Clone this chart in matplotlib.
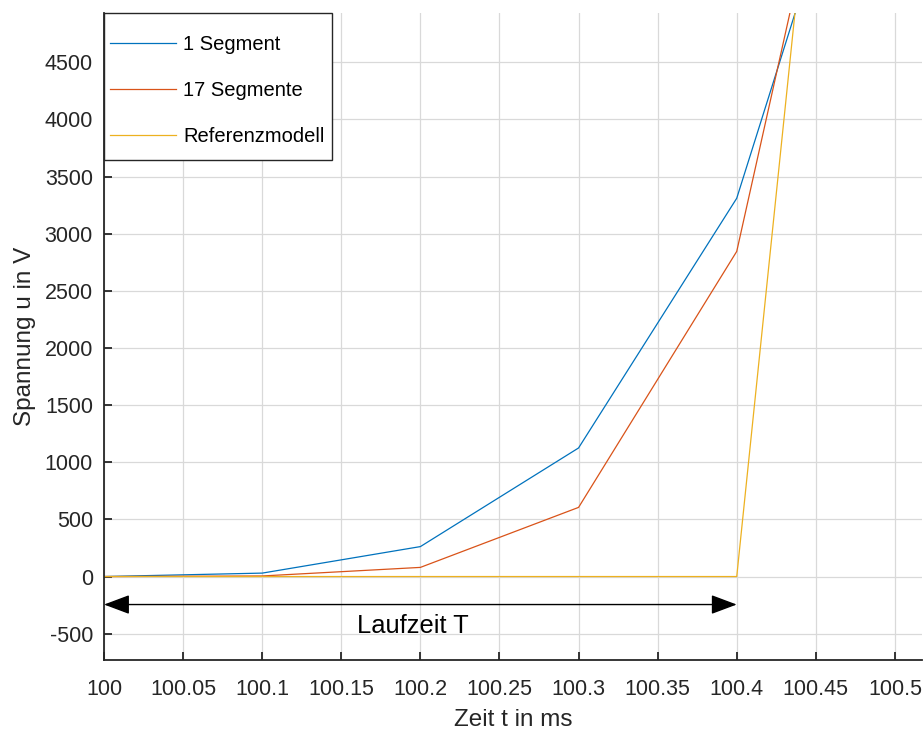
import matplotlib
matplotlib.use('Agg')
import matplotlib.pyplot as plt
import matplotlib.ticker as ticker
from matplotlib.patches import Rectangle

# Zeit in ms
t = [100.0, 100.1, 100.2, 100.3, 100.4, 100.5]
u_1seg = [0, 30, 262, 1125, 3310, 7700]
u_17seg = [0, 5, 80, 605, 2845, 9050]
u_ref = [0, 0, 0, 0, 0, 13400]

labels = ['1 Segment', '17 Segmente', 'Referenzmodell']
colors = ['#0072BD', '#D95319', '#EDB120']

x_ticks = [100, 100.05, 100.1, 100.15, 100.2, 100.25, 100.3, 100.35, 100.4, 100.45, 100.5]
y_ticks = [-500, 0, 500, 1000, 1500, 2000, 2500, 3000, 3500, 4000, 4500]

plt.rcParams['font.family'] = ['Liberation Sans', 'DejaVu Sans']

fig = plt.figure(figsize=(9.23, 7.29), dpi=100)
ax = fig.add_axes([0.1127, 0.0947, 0.886, 0.8873])

for y, lab, c in zip([u_1seg, u_17seg, u_ref], labels, colors):
    ax.plot(t, y, color=c, lw=0.9, label=lab)

ax.set_xlim(100, 100.517)
ax.set_ylim(-730, 4930)
ax.set_xticks(x_ticks)
ax.set_yticks(y_ticks)
ax.xaxis.set_major_formatter(ticker.FuncFormatter(lambda v, p: '%g' % round(v, 2)))
ax.yaxis.set_major_formatter(ticker.FuncFormatter(lambda v, p: ('%d' % v).replace('\u2212', '-')))

ax.grid(True, color='#d9d9d9', lw=0.9)
ax.set_axisbelow(True)
for s in ['top', 'right']:
    ax.spines[s].set_visible(False)
for s in ['left', 'bottom']:
    ax.spines[s].set_color('#262626')
    ax.spines[s].set_linewidth(1.3)
ax.tick_params(direction='in', length=6, width=1.3, colors='#262626',
               labelsize=15.5, labelcolor='#262626')
ax.tick_params(axis='x', pad=14)
ax.tick_params(axis='y', pad=8)

ax.set_xlabel('Zeit t in ms', fontsize=17.5, color='#262626', labelpad=6)
ax.set_ylabel('Spannung u in V', fontsize=17.5, color='#262626', labelpad=6)

ax.annotate('', xy=(100.0, -245), xytext=(100.4, -245),
            arrowprops=dict(arrowstyle='<|-|>,head_length=0.8,head_width=0.3',
                            color='black', lw=1.0, mutation_scale=20,
                            shrinkA=0, shrinkB=0))
ax.text(100.195, -430, 'Laufzeit T', fontsize=18.4, ha='center', va='center')

# legend frame drawn by hand (MATLAB-like padding)
ax.add_patch(Rectangle((0, 1 - 0.2272), 0.279, 0.2272, transform=ax.transAxes,
                       facecolor='white', edgecolor='#262626', lw=1.0,
                       zorder=4.9, clip_on=False))
leg = ax.legend(loc='upper left', bbox_to_anchor=(0.0073, 0.966), fontsize=14.5,
                frameon=False, borderaxespad=0, handlelength=3.3,
                handletextpad=0.35, labelspacing=1.35, borderpad=0)

fig.savefig('out.png', dpi=100)
